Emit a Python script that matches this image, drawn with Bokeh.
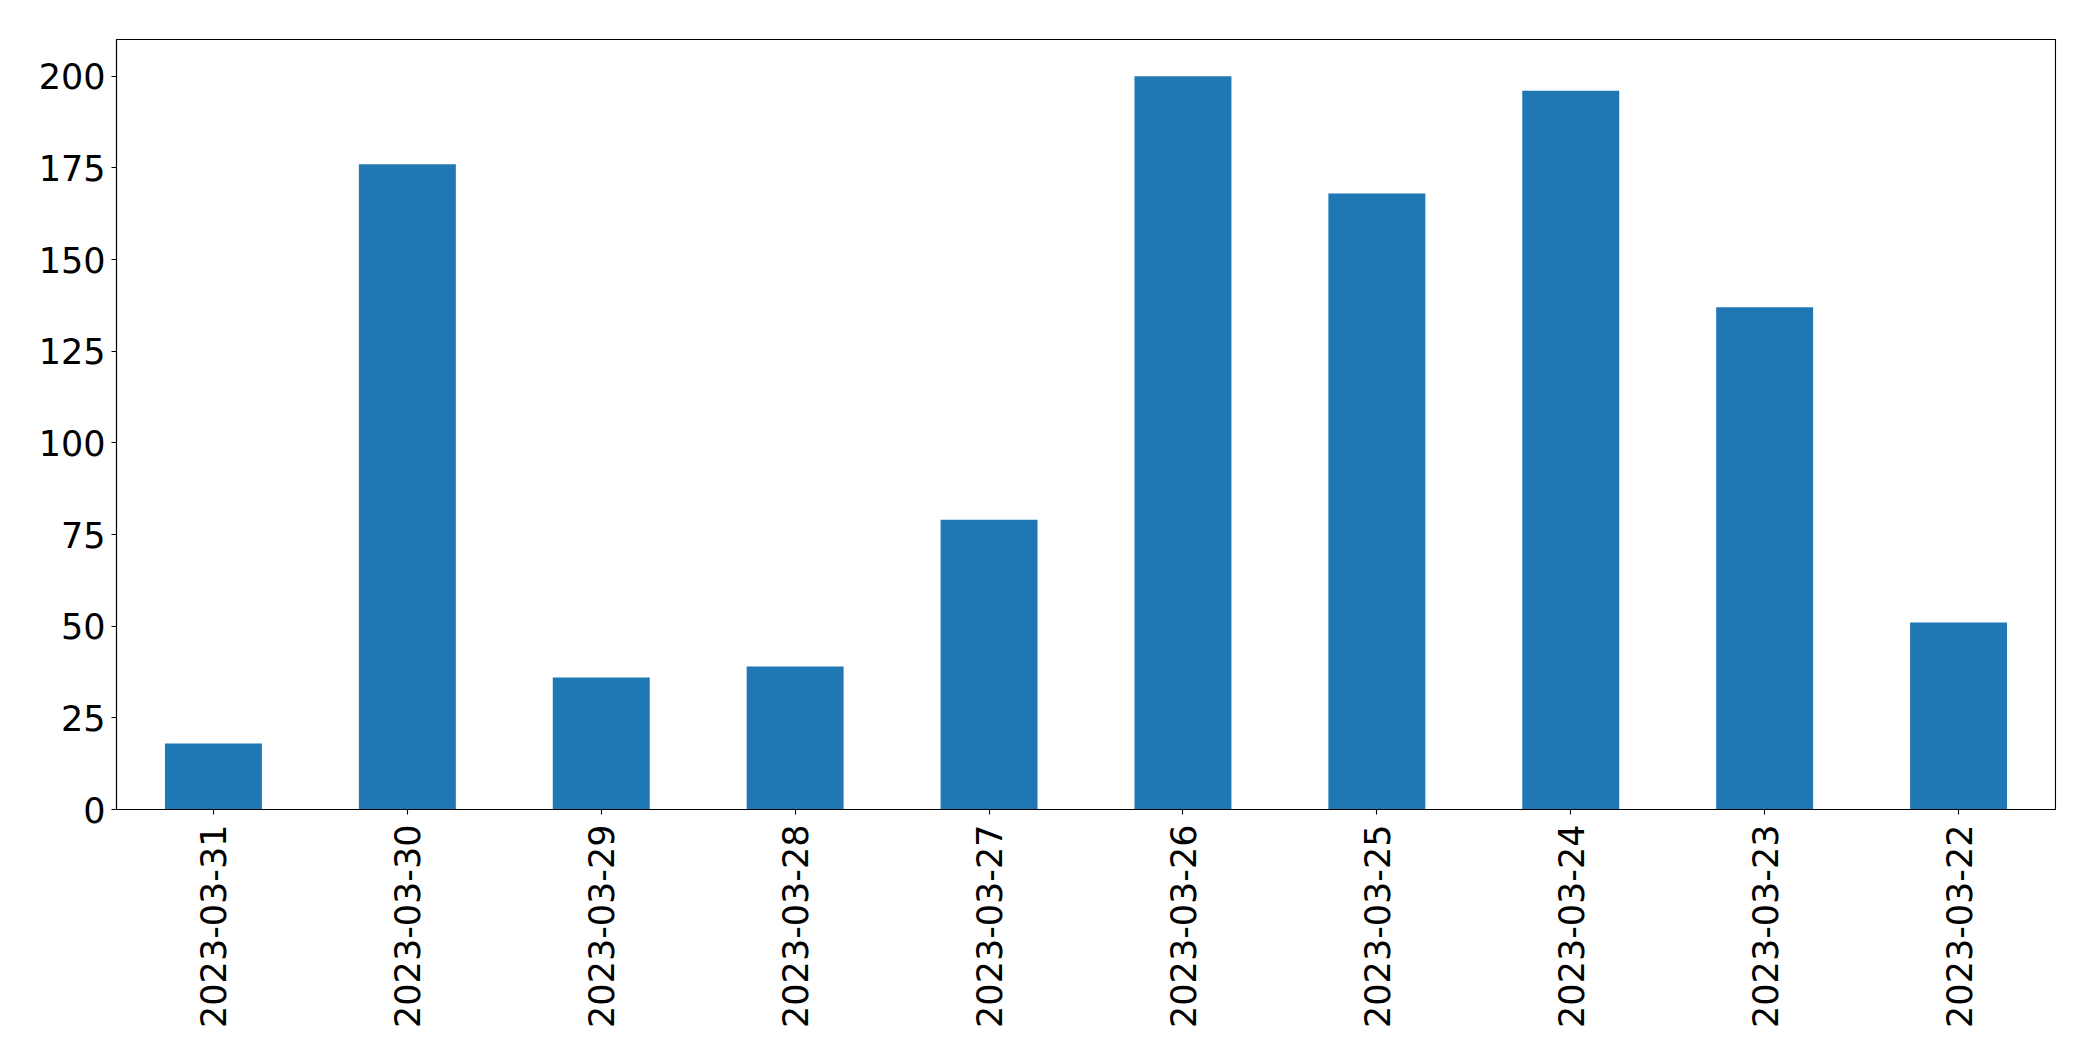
import math
from bokeh.plotting import figure
from bokeh.models import FactorRange, Range1d, FixedTicker, ColumnDataSource
from bokeh.embed import file_html
from bokeh.resources import INLINE

dates = ["2023-03-31", "2023-03-30", "2023-03-29", "2023-03-28", "2023-03-27",
         "2023-03-26", "2023-03-25", "2023-03-24", "2023-03-23", "2023-03-22"]
counts = [18, 176, 36, 39, 79, 200, 168, 196, 137, 51]
y_ticks = [0, 25, 50, 75, 100, 125, 150, 175, 200]

source = ColumnDataSource(data=dict(date=dates, count=counts))

p = figure(width=2093, height=1061, output_backend="svg", toolbar_location=None,
           x_range=FactorRange(*dates, range_padding=0),
           y_range=Range1d(0, 210))
p.min_border_left = 116
p.min_border_right = 38
p.min_border_top = 39
p.min_border_bottom = 252

p.vbar(x="date", top="count", width=0.5, source=source,
       fill_color="#1f77b4", line_color=None)

p.xgrid.visible = False
p.ygrid.visible = False
p.outline_line_color = "black"
p.outline_line_width = 1.1

p.yaxis.ticker = FixedTicker(ticks=y_ticks)
for ax in (p.xaxis[0], p.yaxis[0]):
    ax.axis_line_color = "black"
    ax.axis_line_width = 1.1
    ax.major_tick_line_color = "black"
    ax.major_tick_line_width = 1.1
    ax.major_tick_out = 5
    ax.major_tick_in = 0
    ax.minor_tick_line_color = None
    ax.major_label_text_font = "DejaVu Sans"
    ax.major_label_text_font_size = "35px"
    ax.major_label_text_color = "black"
    ax.major_label_standoff = 6

p.xaxis.major_label_orientation = math.pi / 2
p.xaxis.major_label_standoff = 10

open("out.html", "w").write(file_html(p, INLINE))
